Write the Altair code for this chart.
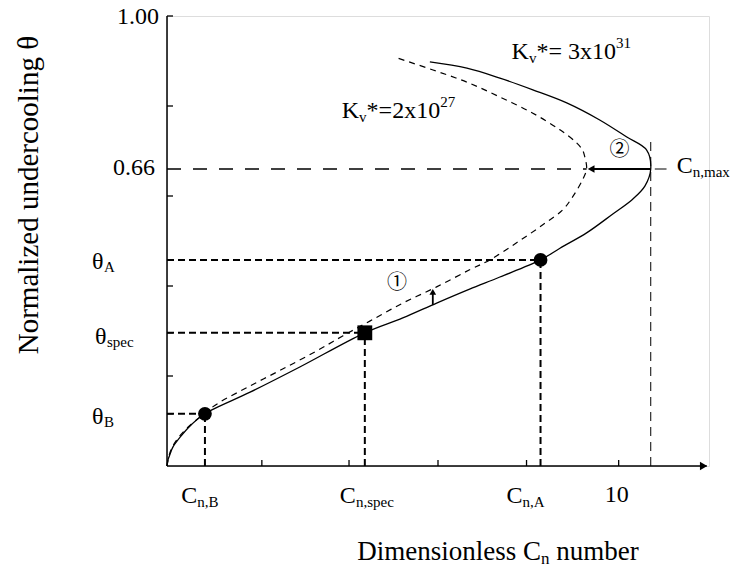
import altair as alt
import pandas as pd

# ---------------- data ----------------
# solid curve, K_v* = 3x10^31 (path order: origin -> C_n,max -> back to upper left)
solid_x = [0.00, 0.02, 0.07, 0.13, 0.29, 0.51, 0.84, 1.84, 2.94, 4.38, 5.22, 5.97, 6.70,
           7.37, 8.27, 8.70, 9.29, 9.87, 10.31, 10.58, 10.71, 10.62, 10.18, 9.58, 8.85,
           8.10, 7.37, 6.64, 5.82]
solid_y = [0.000, 0.013, 0.027, 0.042, 0.064, 0.089, 0.116, 0.164, 0.220, 0.296, 0.329,
           0.362, 0.393, 0.420, 0.458, 0.484, 0.518, 0.560, 0.593, 0.622, 0.660, 0.702,
           0.731, 0.769, 0.807, 0.836, 0.862, 0.884, 0.898]
# dashed curve, K_v* = 2x10^27
dashed_x = [0.00, 0.07, 0.20, 0.42, 0.73, 1.11, 1.84, 2.57, 3.32, 3.89, 4.49, 5.22, 5.97,
            6.70, 7.15, 7.74, 8.32, 8.76, 8.98, 9.20, 9.29, 9.25, 9.20, 9.07, 8.70, 8.10,
            7.37, 6.64, 5.89, 5.09]
dashed_y = [0.000, 0.031, 0.056, 0.082, 0.109, 0.138, 0.178, 0.216, 0.256, 0.289, 0.322,
            0.362, 0.398, 0.436, 0.458, 0.496, 0.536, 0.569, 0.598, 0.636, 0.660, 0.687,
            0.702, 0.718, 0.747, 0.784, 0.820, 0.853, 0.880, 0.907]

C_B, C_spec, C_A, C_max, C_tip = 0.84, 4.38, 8.27, 10.71, 9.29
th_B, th_spec, th_A, th_max = 0.116, 0.296, 0.458, 0.66

x_ticks = [2.1, 4.03, 6.0, 7.96, 10.0]
y_ticks = [0.2, 0.4, 0.6, 0.8, 1.0]
X_MAX, Y_MAX = 12.0, 1.0

arrow1_x, arrow1_y0, arrow1_y1 = 5.885, 0.358, 0.387

SERIF = "Liberation Serif"
SYM = "Noto Sans CJK JP"
PX_X = 542 / X_MAX   # pixels per x unit
PX_Y = 450 / Y_MAX   # pixels per y unit

xs = alt.Scale(domain=[0, X_MAX], nice=False, zero=False)
ys = alt.Scale(domain=[0, Y_MAX], nice=False, zero=False)
X = alt.X("x:Q", scale=xs, axis=None)
Y = alt.Y("y:Q", scale=ys, axis=None)
X2 = alt.X2("x2:Q")
Y2 = alt.Y2("y2:Q")

layers = []

# ---- axes ----
axes_df = pd.DataFrame({"x": [0, 0], "x2": [0, X_MAX - 0.05], "y": [0, 0], "y2": [Y_MAX, 0]})
layers.append(alt.Chart(axes_df).mark_rule(color="black", strokeWidth=1.5).encode(x=X, x2=X2, y=Y, y2=Y2))

ytk = [*y_ticks, th_A, th_spec, th_B]
ytick_df = pd.DataFrame({"x": [0] * len(ytk), "x2": [6 / PX_X] * len(ytk), "y": ytk, "y2": ytk})
layers.append(alt.Chart(ytick_df).mark_rule(color="black", strokeWidth=1.3).encode(x=X, x2=X2, y=Y, y2=Y2))
xtick_df = pd.DataFrame({"x": x_ticks, "x2": x_ticks, "y": [0] * len(x_ticks), "y2": [6 / PX_Y] * len(x_ticks)})
layers.append(alt.Chart(xtick_df).mark_rule(color="black", strokeWidth=1.3).encode(x=X, x2=X2, y=Y, y2=Y2))

# x-axis arrowhead
layers.append(alt.Chart(pd.DataFrame({"x": [X_MAX - 0.12], "y": [0]})).mark_point(
    shape="triangle-right", filled=True, color="black", size=70, opacity=1).encode(x=X, y=Y))

# ---- reference (dashed) lines ----
ref_df = pd.DataFrame({
    "x":  [0, C_A, 0, C_spec, 0, C_B],
    "x2": [C_A, C_A, C_spec, C_spec, C_B, C_B],
    "y":  [th_A, 0, th_spec, 0, th_B, 0],
    "y2": [th_A, th_A, th_spec, th_spec, th_B, th_B],
})
layers.append(alt.Chart(ref_df).mark_rule(color="black", strokeWidth=2, strokeDash=[7, 4]).encode(
    x=X, x2=X2, y=Y, y2=Y2))
layers.append(alt.Chart(pd.DataFrame({"x": [0], "x2": [C_tip], "y": [th_max], "y2": [th_max]})).mark_rule(
    color="black", strokeWidth=1.5, strokeDash=[14, 12]).encode(x=X, x2=X2, y=Y, y2=Y2))
layers.append(alt.Chart(pd.DataFrame({"x": [C_max], "x2": [C_max], "y": [0], "y2": [0.731]})).mark_rule(
    color="black", strokeWidth=1, strokeDash=[9, 6]).encode(x=X, x2=X2, y=Y, y2=Y2))

# ---- curves ----
solid_df = pd.DataFrame({"x": solid_x, "y": solid_y, "i": range(len(solid_x))})
dashed_df = pd.DataFrame({"x": dashed_x, "y": dashed_y, "i": range(len(dashed_x))})
layers.append(alt.Chart(solid_df).mark_line(color="black", strokeWidth=1.3, interpolate="catmull-rom").encode(
    x=X, y=Y, order=alt.Order("i:Q")))
layers.append(alt.Chart(dashed_df).mark_line(color="black", strokeWidth=1.2, strokeDash=[6, 5],
                                              interpolate="catmull-rom").encode(
    x=X, y=Y, order=alt.Order("i:Q")))

# ---- markers ----
layers.append(alt.Chart(pd.DataFrame({"x": [C_B, C_A], "y": [th_B, th_A]})).mark_point(
    shape="circle", filled=True, color="black", size=190, opacity=1).encode(x=X, y=Y))
layers.append(alt.Chart(pd.DataFrame({"x": [C_spec], "y": [th_spec]})).mark_point(
    shape="square", filled=True, color="black", size=220, opacity=1).encode(x=X, y=Y))

# ---- arrow 2 (from C_n,max to dashed tip) ----
layers.append(alt.Chart(pd.DataFrame({"x": [C_tip + 0.1], "x2": [C_max], "y": [th_max], "y2": [th_max]})).mark_rule(
    color="black", strokeWidth=1.8).encode(x=X, x2=X2, y=Y, y2=Y2))
layers.append(alt.Chart(pd.DataFrame({"x": [C_tip + 0.1], "y": [th_max]})).mark_point(
    shape="triangle-left", filled=True, color="black", size=60, opacity=1).encode(x=X, y=Y))
# leader for C_n,max label
layers.append(alt.Chart(pd.DataFrame({"x": [C_max + 0.09], "x2": [C_max + 0.35], "y": [th_max], "y2": [th_max]})).mark_rule(
    color="black", strokeWidth=1).encode(x=X, x2=X2, y=Y, y2=Y2))

# ---- arrow 1 ----
layers.append(alt.Chart(pd.DataFrame({"x": [arrow1_x], "x2": [arrow1_x], "y": [arrow1_y0], "y2": [arrow1_y1]})).mark_rule(
    color="black", strokeWidth=1.8).encode(x=X, x2=X2, y=Y, y2=Y2))
layers.append(alt.Chart(pd.DataFrame({"x": [arrow1_x], "y": [arrow1_y1]})).mark_point(
    shape="triangle-up", filled=True, color="black", size=45, opacity=1).encode(x=X, y=Y))

# ---- text helpers ----
CW = {"C": .667, "K": .722, "A": .722, "B": .667, "D": .722, "N": .722, "n": .5, ",": .25,
      "s": .389, "p": .5, "e": .444, "c": .444, "m": .778, "a": .444, "x": .5, "v": .5,
      "*": .5, "=": .564, " ": .25, ".": .25, "i": .278, "o": .5, "l": .278, "u": .5,
      "b": .5, "r": .333, "d": .5, "θ": .5}


def tw(s, size):
    return sum(CW.get(ch, .5) for ch in s) * size


def rich(parts, x, y, align="left", dx0=0.0, dy0=0.0):
    total = sum(tw(t, s) for t, s, _ in parts)
    cur = {"left": 0, "center": -total / 2, "right": -total}[align] + dx0
    out = []
    for t, s, dy in parts:
        lead = len(t) - len(t.lstrip(" "))
        cur += lead * CW[" "] * s
        t2 = t.lstrip(" ")
        df = pd.DataFrame({"x": [x], "y": [y], "t": [t2]})
        out.append(alt.Chart(df).mark_text(align="left", baseline="middle", dx=cur, dy=dy0 + dy,
                                           fontSize=s, font=SERIF, color="black").encode(
            x=X, y=Y, text="t:N"))
        cur += tw(t2, s)
    return out


MAIN, SUB = 24, 15

# y-axis labels
layers += rich([("1.00", MAIN, 0)], 0, 1.0, align="right", dx0=-8, dy0=1)
layers += rich([("0.66", MAIN, 0)], 0, th_max, align="right", dx0=-12, dy0=-1)
layers += rich([("θ", MAIN, 0), ("A", SUB, 5)], 0, th_A, dx0=-75, dy0=2)
layers += rich([("θ", MAIN, 0), ("spec", SUB, 5)], 0, th_spec, dx0=-72, dy0=4)
layers += rich([("θ", MAIN, 0), ("B", SUB, 5)], 0, th_B, dx0=-75, dy0=3)

# x-axis labels
layers += rich([("C", MAIN, 0), ("n,B", SUB, 6)], C_B, 0, align="center", dx0=-5, dy0=30)
layers += rich([("C", MAIN, 0), ("n,spec", SUB, 6)], C_spec, 0, align="center", dx0=2, dy0=30)
layers += rich([("C", MAIN, 0), ("n,A", SUB, 6)], x_ticks[3], 0, align="center", dx0=-1, dy0=30)
layers += rich([("10", MAIN, 0)], x_ticks[4], 0, align="center", dx0=-2, dy0=29)

# curve labels
layers += rich([("K", MAIN, 0), ("v", SUB, 6), ("*= 3x10", MAIN, 0), ("31", SUB, -9)], 7.63, 0.92)
layers += rich([("K", MAIN, 0), ("v", SUB, 6), ("*=2x10", MAIN, 0), ("27", SUB, -9)], 3.87, 0.789)
layers += rich([("C", MAIN, 0), ("n,max", SUB, 6)], C_max, th_max, dx0=26, dy0=-3)

# circled numbers
layers.append(alt.Chart(pd.DataFrame({"x": [5.09, 10.02], "y": [0.407, 0.702], "t": ["①", "②"]})).mark_text(
    font=SYM, fontSize=20, color="black", align="center", baseline="middle").encode(x=X, y=Y, text="t:N"))

# titles
layers += rich([("Dimensionless C", 27, 0), ("n", 17, 7), (" number", 27, 0)], 4.21, -0.19, align="left")
layers.append(alt.Chart(pd.DataFrame({"x": [-3.053], "y": [0.602], "t": ["Normalized undercooling θ"]})).mark_text(
    font=SERIF, fontSize=29, color="black", angle=270, align="center", baseline="middle").encode(
    x=X, y=Y, text="t:N"))

chart = alt.layer(*layers).properties(
    width=542, height=450,
    padding={"left": 167, "top": 16, "right": 23, "bottom": 104},
    autosize=alt.AutoSizeParams(type="none"),
).configure_view(stroke=None).configure(background="white")

chart.save("out.html", embed_options={"renderer": "svg", "actions": False})
